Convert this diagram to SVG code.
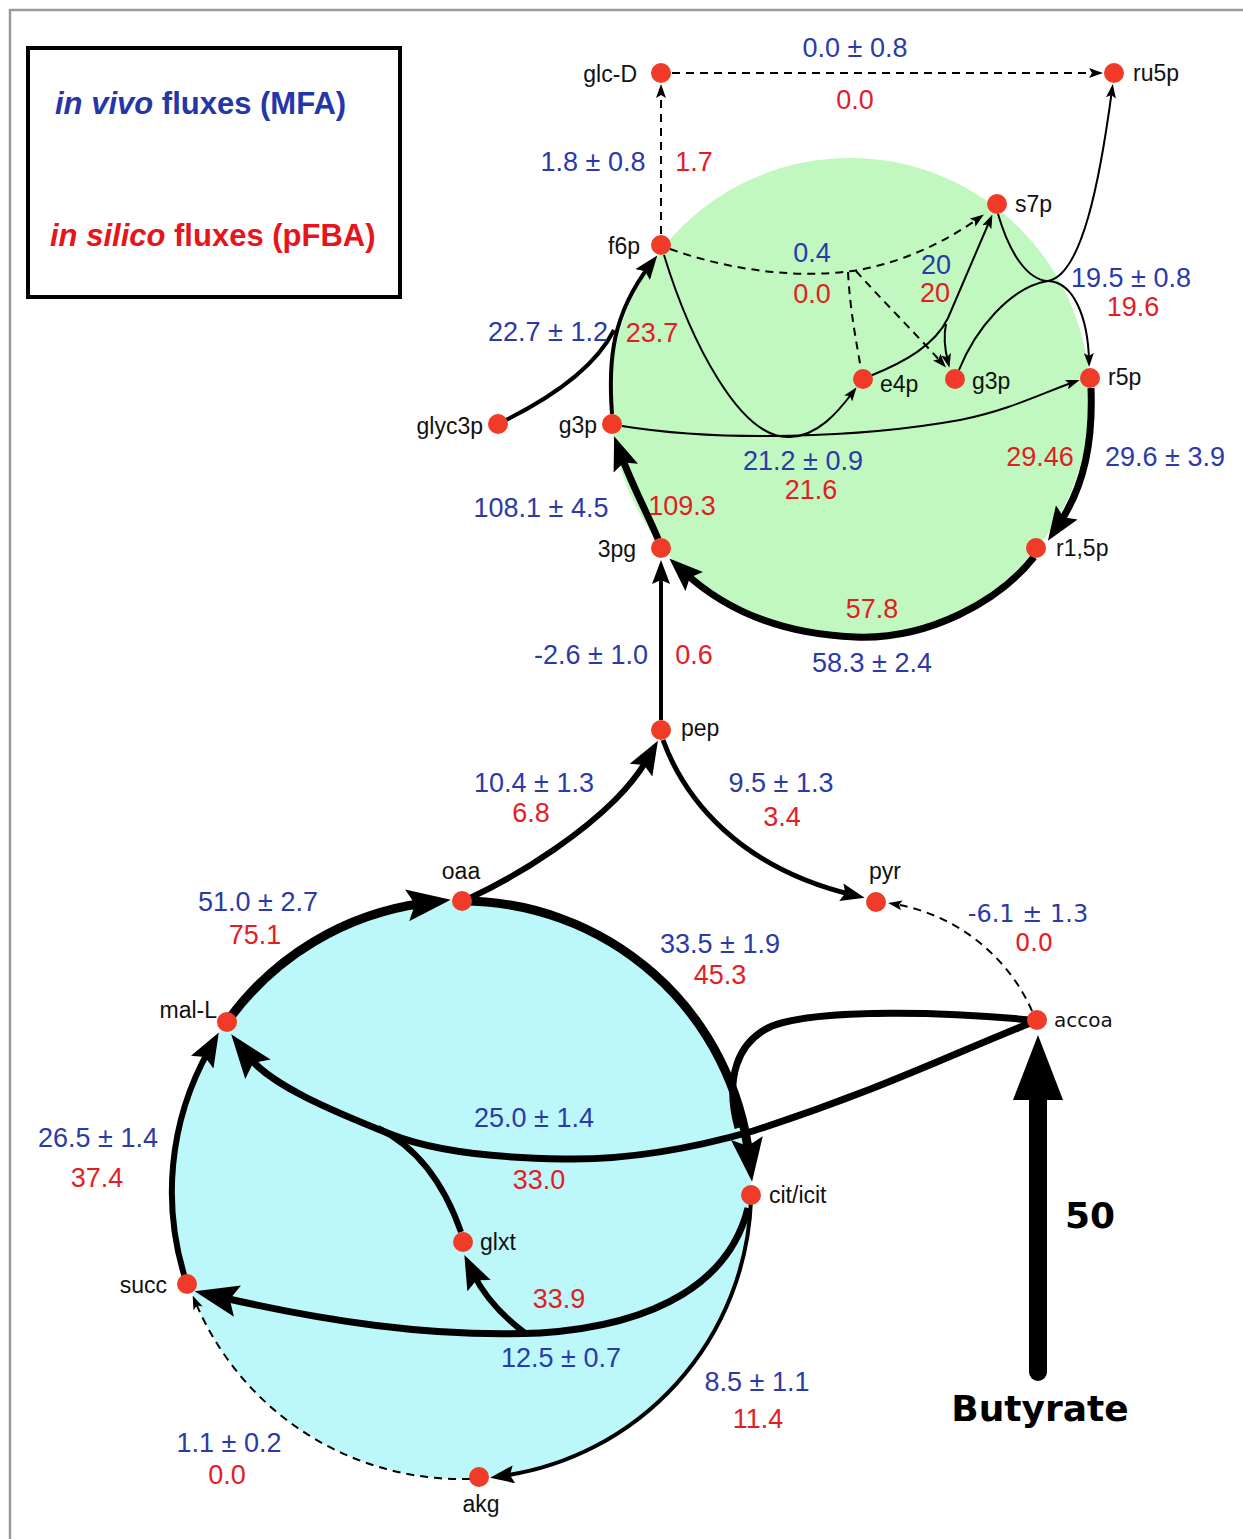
<svg xmlns="http://www.w3.org/2000/svg" width="1243" height="1539" viewBox="0 0 1243 1539">
<style>
.nd{fill:#ef3b27}
.lb{font-family:'Liberation Sans',Arial,sans-serif;font-size:23px;fill:#111}
.lbv{font-family:'DejaVu Sans',Verdana,sans-serif;font-size:20px;fill:#111}
.fb{font-family:'Liberation Sans',Arial,sans-serif;font-size:27px;fill:#2c3aa8;text-anchor:middle}
.fr{font-family:'Liberation Sans',Arial,sans-serif;font-size:27px;fill:#e41d25;text-anchor:middle}
.fbv{font-family:'DejaVu Sans',Verdana,sans-serif;font-size:24px;fill:#2c3aa8;text-anchor:middle}
.frv{font-family:'DejaVu Sans',Verdana,sans-serif;font-size:24px;fill:#e41d25;text-anchor:middle}
.e{fill:none;stroke:#000}
.w2{stroke-width:2}
.w4{stroke-width:4}
.w5{stroke-width:5}
.w6{stroke-width:6}
.w7{stroke-width:7}
.w9{stroke-width:9}
.d{stroke-dasharray:8 6}
</style>
<defs>
<marker id="a1" markerUnits="userSpaceOnUse" markerWidth="14" markerHeight="10" refX="8" refY="5" orient="auto"><path d="M0,0 L14,5 L0,10 L3,5 z" fill="#000"/></marker>
<marker id="a2" markerUnits="userSpaceOnUse" markerWidth="24" markerHeight="18" refX="12" refY="9" orient="auto"><path d="M0,0 L24,9 L0,18 L4,9 z" fill="#000"/></marker>
<marker id="a3" markerUnits="userSpaceOnUse" markerWidth="34" markerHeight="26" refX="14" refY="13" orient="auto"><path d="M0,0 L34,13 L0,26 L6,13 z" fill="#000"/></marker>
<marker id="a4" markerUnits="userSpaceOnUse" markerWidth="44" markerHeight="32" refX="18" refY="16" orient="auto"><path d="M0,0 L44,16 L0,32 L8,16 z" fill="#000"/></marker>
</defs>
<rect x="0" y="0" width="1243" height="1539" fill="#fff"/>
<rect x="10" y="10" width="1260" height="1560" fill="none" stroke="#9a9a9a" stroke-width="2.5"/>
<g id="legend">
<rect x="28" y="48" width="372" height="249" fill="none" stroke="#000" stroke-width="4"/>
<text x="55" y="114" font-family="'Liberation Sans',Arial,sans-serif" font-size="31" font-weight="bold" fill="#2536a8"><tspan font-style="italic">in vivo</tspan> fluxes (MFA)</text>
<text x="50" y="246" font-family="'Liberation Sans',Arial,sans-serif" font-size="31" font-weight="bold" fill="#e8141c"><tspan font-style="italic">in silico</tspan> fluxes (pFBA)</text>
</g>
<g id="regions">
<circle cx="850" cy="398" r="240" fill="#c0f8c0"/>
<circle cx="462" cy="1190" r="289" fill="#bcf7fa"/>
</g>
<g id="connectors">
<path class="e w2 d" d="M672,73 L1097,73" marker-end="url(#a1)"/>
<path class="e w2 d" d="M661,234 L661,90" marker-end="url(#a1)"/>
<path class="e w2" d="M998,214 C1010,255 1028,280 1048,281 C1074,282 1088,318 1089,361" marker-end="url(#a1)"/>
<path class="e w2" d="M959,370 C975,330 1010,287 1048,281 C1082,275 1100,180 1112,90" marker-end="url(#a1)"/>
<path class="e w2" d="M870,376 C905,362 935,345 948,318 C962,285 976,252 990,220" marker-end="url(#a1)"/>
<path class="e w2" d="M946,324 C943,338 945,350 948,362" marker-end="url(#a1)"/>
<path class="e w2" d="M664,255 C690,340 740,440 790,437 C818,436 838,412 853,392" marker-end="url(#a1)"/>
<path class="e w2" d="M622,426 C720,442 860,438 960,420 C1010,410 1045,392 1074,382" marker-end="url(#a1)"/>
<path class="e w2 d" d="M670,249 C735,272 800,278 852,271 C900,264 945,242 979,218" marker-end="url(#a1)"/>
<path class="e w2 d" d="M848,272 C850,310 856,340 861,369"/>
<path class="e w2 d" d="M856,271 C880,298 915,333 942,363" marker-end="url(#a1)"/>
<path class="e w4" d="M612,414 C608,360 612,315 650,265" marker-end="url(#a2)"/>
<path class="e w4" d="M506,420 C560,393 598,362 614,330"/>
<path class="e w7" d="M658,539 C648,515 632,485 621,455" marker-end="url(#a3)"/>
<path class="e w7" d="M1091,388 C1093,440 1085,485 1059,524" marker-end="url(#a3)"/>
<path class="e w7" d="M1034,557 C1000,600 930,640 855,637 C780,634 725,610 684,572" marker-end="url(#a3)"/>
<path class="e w4" d="M661,720 L661,572" marker-end="url(#a2)"/>
<path class="e w6" d="M470,898 C530,870 585,830 615,800 C630,785 640,772 648,758" marker-end="url(#a3)"/>
<path class="e w5" d="M663,740 C685,800 740,868 853,895" marker-end="url(#a2)"/>
<path class="e w2 d" d="M1032,1011 C1010,960 960,915 894,904" marker-end="url(#a1)"/>
<path class="e w9" d="M227,1022 A289,289 0 0 1 425,903" marker-end="url(#a4)"/>
<path class="e w9" d="M462,901 A289,289 0 0 1 749,1156" marker-end="url(#a4)"/>
<path class="e w7" d="M1030,1020 C950,1012 820,1008 772,1026 C736,1042 725,1080 738,1128"/>
<path class="e w7" d="M1033,1022 C950,1055 880,1090 753,1131 C680,1152 620,1160 564,1159 C490,1158 430,1150 390,1134 C330,1110 270,1085 247,1055" marker-end="url(#a4)"/>
<path class="e w6" d="M461,1232 C447,1192 423,1150 378,1128"/>
<path class="e w7" d="M748,1208 C730,1280 660,1325 540,1333 C430,1338 320,1320 220,1297" marker-end="url(#a4)"/>
<path class="e w6" d="M525,1333 C505,1318 485,1298 473,1273" marker-end="url(#a3)"/>
<path class="e w4" d="M751,1200 A289,289 0 0 1 502,1476" marker-end="url(#a2)"/>
<path class="e w2 d" d="M470,1479 A289,289 0 0 1 195,1301" marker-end="url(#a1)"/>
<path class="e w6" d="M187,1284 A289,289 0 0 1 209,1050" marker-end="url(#a3)"/>
<path d="M1038,1372 L1038,1098" fill="none" stroke="#000" stroke-width="18" stroke-linecap="round"/>
<polygon points="1038,1035 1063,1100 1013,1100" fill="#000"/>
</g>
<g id="flux-labels">
<text class="fb" x="855" y="57">0.0 ± 0.8</text><text class="fr" x="855" y="109">0.0</text>
<text class="fb" x="593" y="171">1.8 ± 0.8</text><text class="fr" x="694" y="171">1.7</text>
<text class="fb" x="812" y="262">0.4</text><text class="fr" x="812" y="303">0.0</text>
<text class="fb" x="936" y="274">20</text><text class="fr" x="935" y="302">20</text>
<text class="fb" x="1131" y="287">19.5 ± 0.8</text><text class="fr" x="1133" y="316">19.6</text>
<text class="fb" x="548" y="341">22.7 ± 1.2</text><text class="fr" x="652" y="342">23.7</text>
<text class="fb" x="803" y="470">21.2 ± 0.9</text><text class="fr" x="811" y="499">21.6</text>
<text class="fr" x="1040" y="466">29.46</text><text class="fb" x="1165" y="466">29.6 ± 3.9</text>
<text class="fb" x="541" y="517">108.1 ± 4.5</text><text class="fr" x="682" y="515">109.3</text>
<text class="fr" x="872" y="618">57.8</text><text class="fb" x="872" y="672">58.3 ± 2.4</text>
<text class="fb" x="591" y="664">-2.6 ± 1.0</text><text class="fr" x="694" y="664">0.6</text>
<text class="fb" x="534" y="792">10.4 ± 1.3</text><text class="fr" x="531" y="822">6.8</text>
<text class="fb" x="781" y="792">9.5 ± 1.3</text><text class="fr" x="782" y="826">3.4</text>
<text class="fbv" x="1028" y="922">-6.1 ± 1.3</text><text class="frv" x="1034" y="951">0.0</text>
<text class="fb" x="258" y="911">51.0 ± 2.7</text><text class="fr" x="255" y="944">75.1</text>
<text class="fb" x="720" y="953">33.5 ± 1.9</text><text class="fr" x="720" y="984">45.3</text>
<text class="fb" x="534" y="1127">25.0 ± 1.4</text><text class="fr" x="539" y="1189">33.0</text>
<text class="fb" x="98" y="1147">26.5 ± 1.4</text><text class="fr" x="97" y="1187">37.4</text>
<text class="fr" x="559" y="1308">33.9</text><text class="fb" x="561" y="1367">12.5 ± 0.7</text>
<text class="fb" x="757" y="1391">8.5 ± 1.1</text><text class="fr" x="758" y="1428">11.4</text>
<text class="fb" x="229" y="1452">1.1 ± 0.2</text><text class="fr" x="227" y="1484">0.0</text>
<text x="1090" y="1228" font-family="'DejaVu Sans',Verdana,sans-serif" font-size="36" font-weight="bold" text-anchor="middle" fill="#000">50</text>
<text x="1040" y="1421" font-family="'DejaVu Sans',Verdana,sans-serif" font-size="36" font-weight="bold" text-anchor="middle" fill="#000">Butyrate</text>
</g>
<g id="n-glcD"><circle class="nd" cx="661" cy="73" r="10"/><text class="lb" x="637" y="82" text-anchor="end">glc-D</text></g>
<g id="n-ru5p"><circle class="nd" cx="1114" cy="73" r="10"/><text class="lb" x="1133" y="81">ru5p</text></g>
<g id="n-s7p"><circle class="nd" cx="997" cy="204" r="10"/><text class="lb" x="1015" y="212">s7p</text></g>
<g id="n-f6p"><circle class="nd" cx="661" cy="245" r="10"/><text class="lb" x="640" y="254" text-anchor="end">f6p</text></g>
<g id="n-e4p"><circle class="nd" cx="863" cy="379" r="10"/><text class="lb" x="880" y="392">e4p</text></g>
<g id="n-g3p2"><circle class="nd" cx="955" cy="379" r="10"/><text class="lb" x="972" y="389">g3p</text></g>
<g id="n-r5p"><circle class="nd" cx="1090" cy="378" r="10"/><text class="lb" x="1108" y="385">r5p</text></g>
<g id="n-glyc3p"><circle class="nd" cx="498" cy="424" r="10"/><text class="lb" x="483" y="434" text-anchor="end">glyc3p</text></g>
<g id="n-g3p"><circle class="nd" cx="612" cy="424" r="10"/><text class="lb" x="597" y="433" text-anchor="end">g3p</text></g>
<g id="n-3pg"><circle class="nd" cx="661" cy="548" r="10"/><text class="lb" x="636" y="557" text-anchor="end">3pg</text></g>
<g id="n-r15p"><circle class="nd" cx="1036" cy="548" r="10"/><text class="lb" x="1056" y="556">r1,5p</text></g>
<g id="n-pep"><circle class="nd" cx="661" cy="730" r="10"/><text class="lb" x="681" y="736">pep</text></g>
<g id="n-oaa"><circle class="nd" cx="462" cy="901" r="10"/><text class="lb" x="461" y="879" text-anchor="middle">oaa</text></g>
<g id="n-pyr"><circle class="nd" cx="876" cy="902" r="10"/><text class="lb" x="885" y="879" text-anchor="middle">pyr</text></g>
<g id="n-malL"><circle class="nd" cx="227" cy="1022" r="10"/><text class="lb" x="217" y="1018" text-anchor="end">mal-L</text></g>
<g id="n-accoa"><circle class="nd" cx="1037" cy="1020" r="10"/><text class="lbv" x="1054" y="1027">accoa</text></g>
<g id="n-cit"><circle class="nd" cx="751" cy="1195" r="10"/><text class="lb" x="769" y="1203">cit/icit</text></g>
<g id="n-glxt"><circle class="nd" cx="463" cy="1242" r="10"/><text class="lb" x="480" y="1250">glxt</text></g>
<g id="n-succ"><circle class="nd" cx="187" cy="1284" r="10"/><text class="lb" x="167" y="1293" text-anchor="end">succ</text></g>
<g id="n-akg"><circle class="nd" cx="479" cy="1477" r="10"/><text class="lb" x="481" y="1512" text-anchor="middle">akg</text></g>
</svg>
